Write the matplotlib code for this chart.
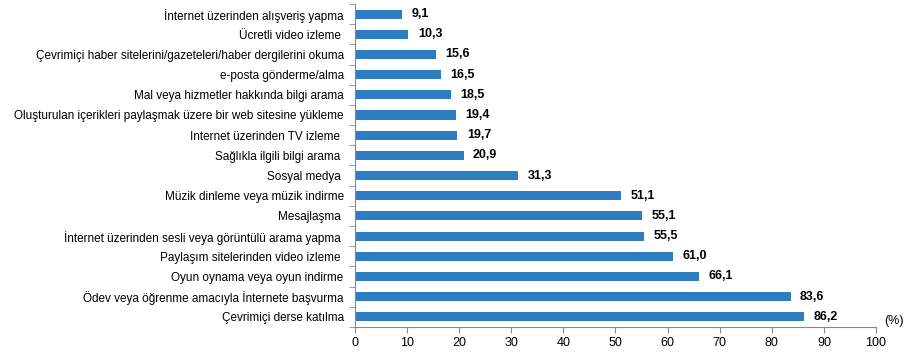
import matplotlib
matplotlib.use("Agg")
import matplotlib.pyplot as plt
import numpy as np

plt.rcParams['font.family'] = ['Liberation Sans', 'DejaVu Sans']

categories = [
    "İnternet üzerinden alışveriş yapma",
    "Ücretli video izleme ",
    "Çevrimiçi haber sitelerini/gazeteleri/haber dergilerini okuma",
    "e-posta gönderme/alma",
    "Mal veya hizmetler hakkında bilgi arama",
    "Oluşturulan içerikleri paylaşmak üzere bir web sitesine yükleme",
    "Internet üzerinden TV izleme ",
    "Sağlıkla ilgili bilgi arama ",
    "Sosyal medya ",
    "Müzik dinleme veya müzik indirme",
    "Mesajlaşma ",
    "İnternet üzerinden sesli veya görüntülü arama yapma ",
    "Paylaşım sitelerinden video izleme ",
    "Oyun oynama veya oyun indirme",
    "Ödev veya öğrenme amacıyla İnternete başvurma",
    "Çevrimiçi derse katılma",
]
values = [9.1, 10.3, 15.6, 16.5, 18.5, 19.4, 19.7, 20.9, 31.3, 51.1,
          55.1, 55.5, 61.0, 66.1, 83.6, 86.2]

fig = plt.figure(figsize=(9.05, 3.6), dpi=100)
ax = fig.add_axes([0.392, 0.092, 0.576, 0.897])

y = np.arange(len(categories))
ax.barh(y, values, height=0.45, color='#2E7DC2')
ax.set_ylim(len(categories) - 0.5, -0.5)
ax.set_xlim(0, 100)
ax.set_xticks(np.arange(0, 101, 10))

ax.set_yticks(y)
ax.set_yticklabels(categories, fontsize=8.5)
ax.tick_params(axis='y', length=0, pad=8)
ax.set_yticks(np.arange(-0.5, len(categories), 1), minor=True)
ax.tick_params(axis='y', which='minor', length=4, color='#888888')
ax.tick_params(axis='x', labelsize=9, length=4, color='#888888')

for s in ['top', 'right']:
    ax.spines[s].set_visible(False)
for s in ['left', 'bottom']:
    ax.spines[s].set_color('#888888')

for yi, v in zip(y, values):
    ax.text(v + 1.8, yi, f"{v:.1f}".replace('.', ','), va='center', ha='left',
            fontsize=9, fontweight='bold')

ax.text(101.5, 15.2, "(%)", fontsize=9, ha='left', va='center', clip_on=False)

fig.savefig("out.png", dpi=100)
